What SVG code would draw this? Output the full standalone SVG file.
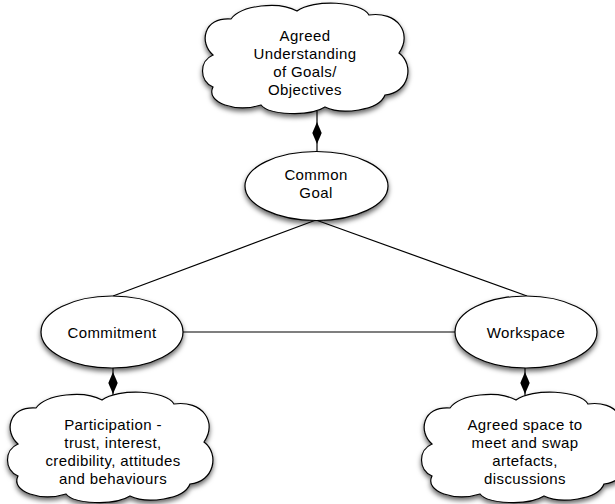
<svg xmlns="http://www.w3.org/2000/svg" width="615" height="504" viewBox="0 0 615 504">
  <style>
    .shape { fill: #ffffff; stroke: #000000; stroke-width: 1.2; filter: url(#shadow); }
    .link { fill: none; stroke: #000000; stroke-width: 1.2; }
    .label { font-family: "Liberation Sans", Arial, Helvetica, sans-serif; font-size: 15px; letter-spacing: 0.4px; fill: #000000; text-anchor: middle; }
  </style>
  <defs>
    <filter id="shadow" x="-20%" y="-20%" width="140%" height="150%">
      <feDropShadow dx="0" dy="3" stdDeviation="2.6" flood-color="#000000" flood-opacity="0.6"/>
    </filter>
    <!-- cloud outline in a 210 x 110 box -->
    <path id="cloud" d="M 12,52
      C -2,40 2,14 30,16
      C 40,2 78,-2 96,8
      C 112,-4 160,-2 168,12
      C 196,8 212,30 198,50
      C 214,62 208,90 184,92
      C 178,108 140,112 124,104
      C 108,114 68,112 60,102
      C 36,110 4,100 12,84
      C -2,78 -2,58 12,52 Z"/>
    <marker id="diamond" viewBox="-11 -5 22 10" markerWidth="22" markerHeight="10" refX="0" refY="0" orient="auto" markerUnits="userSpaceOnUse">
      <path d="M -11,0 L 0,-4.7 L 11,0 L 0,4.7 Z" fill="#000000"/>
    </marker>
  </defs>

  <rect width="615" height="504" fill="#ffffff"/>

  <!-- connectors -->
  <g id="connectors">
    <line class="link" x1="316" y1="220" x2="113" y2="296"/>
    <line class="link" x1="316" y1="220" x2="527" y2="296"/>
    <line class="link" x1="183" y1="332" x2="455" y2="332"/>
    <path class="link" d="M 317,111 L 317,133 L 317,151" marker-mid="url(#diamond)"/>
    <path class="link" d="M 113,368 L 113,383 L 113,396" marker-mid="url(#diamond)"/>
    <path class="link" d="M 525,368 L 525,383 L 525,396" marker-mid="url(#diamond)"/>
  </g>

  <g id="agreed-understanding">
    <use href="#cloud" class="shape" transform="translate(201,3)"/>
    <text class="label" x="305" y="40.5">Agreed</text>
    <text class="label" x="305" y="58.5">Understanding</text>
    <text class="label" x="305" y="76.5">of Goals/</text>
    <text class="label" x="305" y="94.5">Objectives</text>
  </g>

  <g id="common-goal">
    <ellipse class="shape" cx="316.5" cy="186" rx="71.5" ry="34.5"/>
    <text class="label" x="316" y="180">Common</text>
    <text class="label" x="316" y="198">Goal</text>
  </g>

  <g id="commitment">
    <ellipse class="shape" cx="112" cy="332" rx="71" ry="36"/>
    <text class="label" x="112" y="338">Commitment</text>
  </g>

  <g id="workspace">
    <ellipse class="shape" cx="526" cy="332" rx="71" ry="36"/>
    <text class="label" x="526" y="338">Workspace</text>
  </g>

  <g id="participation">
    <use href="#cloud" class="shape" transform="translate(6,392)"/>
    <text class="label" x="113" y="430">Participation -</text>
    <text class="label" x="113" y="448">trust, interest,</text>
    <text class="label" x="113" y="466">credibility, attitudes</text>
    <text class="label" x="113" y="484">and behaviours</text>
  </g>

  <g id="agreed-space">
    <use href="#cloud" class="shape" transform="translate(420,392)"/>
    <text class="label" x="525" y="430">Agreed space to</text>
    <text class="label" x="525" y="448">meet and swap</text>
    <text class="label" x="525" y="466">artefacts,</text>
    <text class="label" x="525" y="484">discussions</text>
  </g>
</svg>
